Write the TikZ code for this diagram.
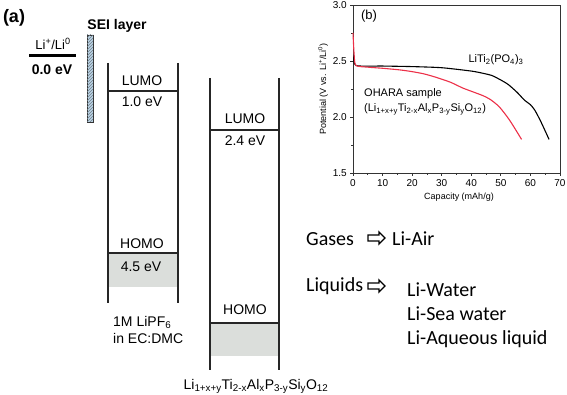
\documentclass[tikz,border=0pt]{standalone}
\usepackage{fontspec}
\setmainfont{Liberation Sans}
\newfontfamily\calib{Carlito}
\usetikzlibrary{positioning}
\usetikzlibrary{shapes.arrows}
\usetikzlibrary{patterns}
\definecolor{bandgray}{RGB}{219,222,219}
\definecolor{seiblue}{RGB}{188,212,230}
\definecolor{curvered}{RGB}{236,48,72}

\begin{document}
\begin{tikzpicture}[x=1pt,y=-1pt,node distance=4pt,
      wall/.style={draw=black!85,line width=1.5pt},
      lvl/.style={draw=black!85,line width=1.3pt},
      band/.style={fill=bandgray},
      txt/.style={inner sep=0pt,font=\fontsize{14}{16}\selectfont},
      bold/.style={inner sep=0pt,font=\fontsize{14}{16}\selectfont\bfseries},
      small/.style={inner sep=0pt,font=\fontsize{10}{12}\selectfont},
      tiny/.style={inner sep=0pt,font=\fontsize{9}{11}\selectfont},
      usetxt/.style={inner sep=0pt,anchor=base west,font=\fontsize{20}{24}\selectfont\calib},
      hollow/.style={single arrow,draw=black,line width=1.3pt,minimum height=17pt,
        single arrow head extend=3pt,inner sep=2.4pt},
      axis/.style={draw=black!80,line width=0.8pt},
      curve/.style={line width=1.1pt,line join=round}]
\useasboundingbox (0,0) rectangle (567,395);

\node (a) [bold,font=\fontsize{18}{20}\selectfont\bfseries] at (14,18) {(a)};
\node (sei) [bold] at (117,26) {SEI layer};
\node (seibar) [draw=black!80,line width=0.9pt,fill=seiblue,minimum width=6pt,minimum height=87pt,
  inner sep=0pt,postaction={pattern=north east lines,pattern color=seiblue!60!black}] at (90,78.5) {};
\node (li) [txt,font=\fontsize{13}{15}\selectfont] at (53,44) {Li\textsuperscript{+}/Li\textsuperscript{0}};
\coordinate (liL) at (29,55.5);
\coordinate (liR) at (76,55.5);
\draw[line width=3pt] (liL) -- (liR);
\node (zero) [bold] at (52,70) {0.0 eV};

\fill[band] (108,253) rectangle (178,287);
\draw[wall] (108,63) -- (108,303) (178,63) -- (178,303);
\draw[lvl] (108,91) -- (178,91) (108,253) -- (178,253);
\node (lumoA) [txt] at (142,81) {LUMO};
\node (lvA) [txt] at (142,102) {1.0 eV};
\node (homoA) [txt] at (142,244) {HOMO};
\node (hvA) [txt] at (141,267) {4.5 eV};
\node (solv) [txt,anchor=base west] at (113,326) {1M LiPF\textsubscript{6}};
\node (solvb) [txt,anchor=base west] at ([yshift=-17pt]solv.base west) {in EC:DMC};

\fill[band] (210,323) rectangle (279,356);
\draw[wall] (210,78) -- (210,370) (279,78) -- (279,370);
\draw[lvl] (210,130) -- (279,130) (210,323) -- (279,323);
\node (lumoB) [txt] at (245,119) {LUMO};
\node (lvB) [txt] at (245,141) {2.4 eV};
\node (homoB) [txt] at (245,310) {HOMO};
\node (latp) [txt,anchor=base] at (256,389) {Li\textsubscript{1+x+y}Ti\textsubscript{2-x}Al\textsubscript{x}P\textsubscript{3-y}Si\textsubscript{y}O\textsubscript{12}};

\begin{scope}[shift={(353pt,-341pt)},x=2.957pt,y=112pt]
\draw[axis] (0,1.5) rectangle (70,3);
\foreach \c in {0,10,...,70} {
  \draw[axis] (\c,1.5) -- ++(0pt,-3pt);
  \node (xt\c) [small,below=6pt] at (\c,1.5) {\c};
}
\foreach \c in {5,15,...,65} \draw[axis] (\c,1.5) -- ++(0pt,-2pt);
\foreach \v [count=\i] in {1.5,2.0,2.5,3.0} {
  \draw[axis] (0,\v) -- ++(-3pt,0pt);
  \node (yt\i) [small,left=6pt] at (0,\v) {\v};
}
\foreach \v in {1.75,2.25,2.75} \draw[axis] (0,\v) -- ++(-2pt,0pt);
\draw[curve,black] plot[smooth,tension=0.4] coordinates {(0.3,2.55) (1,2.46) (10,2.455) (20,2.45)
  (30,2.44) (40,2.41) (44,2.39) (47,2.37) (50,2.33) (52.5,2.29) (55.5,2.22) (58,2.15)
  (60,2.11) (61.5,2.06) (63.5,1.96) (66.3,1.80)};
\draw[curve,curvered] plot[smooth,tension=0.4] coordinates {(0,2.75) (0.4,2.55) (1,2.46) (5,2.445)
  (10,2.435) (16,2.42) (20,2.405) (24,2.385) (28,2.355) (33,2.31) (37,2.26) (40.5,2.225)
  (44,2.19) (46.5,2.155) (49.5,2.09) (53,1.97) (57,1.80)};
\end{scope}
\node (xlab) [tiny] at (459,197) {Capacity (mAh/g)};
\node (ylab) [tiny,rotate=90] at (323,89) {Potential (V vs. Li\textsuperscript{+}/Li\textsuperscript{0})};
\node (b) [txt,font=\fontsize{13}{15}\selectfont] at (369,16) {(b)};
\node (ltp) [small,font=\fontsize{11}{13}\selectfont,anchor=base] at (496,63) {LiTi\textsubscript{2}(PO\textsubscript{4})\textsubscript{3}};
\node (oh) [small,font=\fontsize{11}{13}\selectfont,anchor=base west] at (364,97) {OHARA sample};
\node (ohb) [small,font=\fontsize{11}{13}\selectfont,anchor=base west] at ([yshift=-15pt]oh.base west) {(Li\textsubscript{1+x+y}Ti\textsubscript{2-x}Al\textsubscript{x}P\textsubscript{3-y}Si\textsubscript{y}O\textsubscript{12})};

\node (gas) [usetxt] at (306,245) {Gases};
\node (arw1) [hollow] at (375,238) {};
\node (air) [usetxt] at (392,245) {Li-Air};
\node (liq) [usetxt] at (306,291.5) {Liquids};
\node (arw2) [hollow] at (375,286) {};
\node (wat) [usetxt] at (407,296.5) {Li-Water};
\node (sea) [usetxt] at ([yshift=-24pt]wat.base west) {Li-Sea water};
\node (aq) [usetxt] at ([yshift=-24pt]sea.base west) {Li-Aqueous liquid};
\end{tikzpicture}
\end{document}
